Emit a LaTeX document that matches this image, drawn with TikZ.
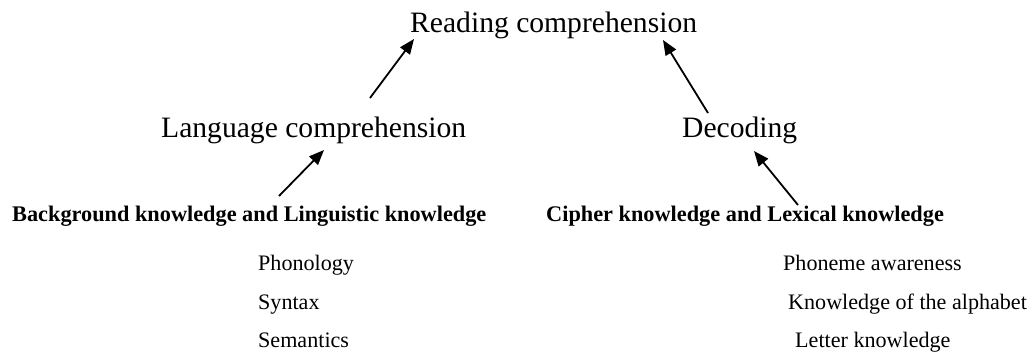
\documentclass[tikz,border=0pt]{standalone}
\usepackage{fontspec}
\setmainfont{Liberation Serif}
\usetikzlibrary{arrows.meta}

\begin{document}
\begin{tikzpicture}[x=1pt,y=-1pt,
                    big node/.style={inner sep=0pt,anchor=base west,font=\fontsize{29.6}{32}\selectfont},
                    head node/.style={inner sep=0pt,anchor=base west,font=\fontsize{22.3}{24}\selectfont\bfseries},
                    item node/.style={inner sep=0pt,anchor=base west,font=\fontsize{22.1}{24}\selectfont},
                    arrow/.style={line width=1.8pt,-{Triangle[length=15pt,width=12pt]}}]
  \useasboundingbox (0,0) rectangle (1036,354);

  \node[big node] (read) at (410,32) {Reading comprehension};
  \node[big node] (lang) at (161,137) {Language comprehension};
  \node[big node] (dec) at (682,137) {Decoding};

  \node[head node] (bg) at (12,221) {Background knowledge and Linguistic knowledge};
  \node[head node] (ciph) at (546,221) {Cipher knowledge and Lexical knowledge};

  \node[item node] (phon) at (258,270) {Phonology};
  \node[item node] (syn) at (258,309) {Syntax};
  \node[item node] (sem) at (258,347) {Semantics};

  \node[item node] (phoneme) at (783,270) {Phoneme awareness};
  \node[item node] (alph) at (788,309) {Knowledge of the alphabet};
  \node[item node] (letter) at (795,347) {Letter knowledge};

  % arrow ends
  \coordinate (lang top) at (370,98);
  \coordinate (read left) at (414,39);
  \coordinate (dec top) at (708,113);
  \coordinate (read right) at (663,40);
  \coordinate (bg top) at (279,196);
  \coordinate (lang bot) at (324,150);
  \coordinate (ciph top) at (798,205);
  \coordinate (dec bot) at (754,151);

  \draw[arrow] (lang top) -- (read left);
  \draw[arrow] (dec top) -- (read right);
  \draw[arrow] (bg top) -- (lang bot);
  \draw[arrow] (ciph top) -- (dec bot);
\end{tikzpicture}
\end{document}
